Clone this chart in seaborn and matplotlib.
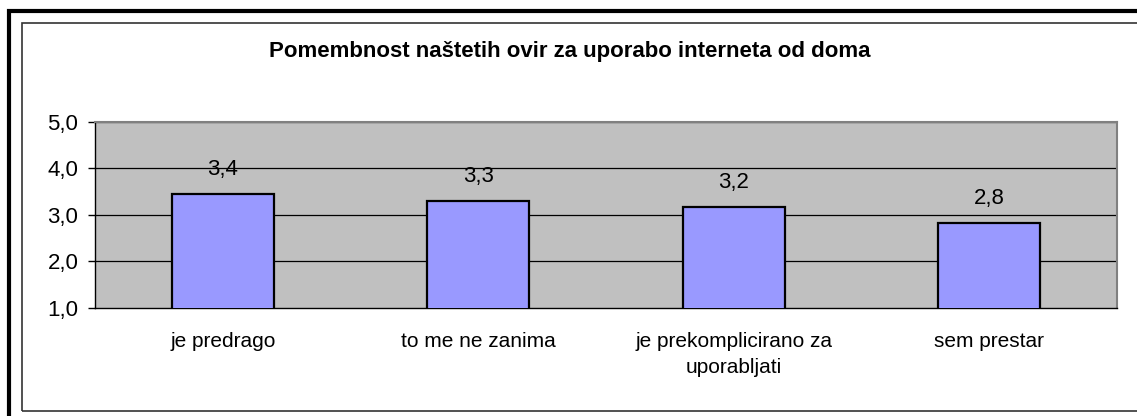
import numpy as np
import pandas as pd
import matplotlib
matplotlib.use("Agg")
import matplotlib.pyplot as plt
from matplotlib.patches import Rectangle
import seaborn as sns

# data
categories = ["je predrago", "to me ne zanima", "je prekomplicirano za\nuporabljati", "sem prestar"]
values = [3.44, 3.29, 3.17, 2.83]
value_labels = ["3,4", "3,3", "3,2", "2,8"]
y_ticks = [1.0, 2.0, 3.0, 4.0, 5.0]
y_tick_labels = ["1,0", "2,0", "3,0", "4,0", "5,0"]
title = "Pomembnost naštetih ovir za uporabo interneta od doma"

sns.set_theme(style="white")
plt.rcParams['font.family'] = ['Liberation Sans', 'DejaVu Sans']
plt.rcParams['text.color'] = 'black'
plt.rcParams['xtick.labelcolor'] = 'black'
plt.rcParams['ytick.labelcolor'] = 'black'

W, H = 1137, 416
fig = plt.figure(figsize=(W / 100, H / 100), dpi=100)
fig.patch.set_facecolor("white")

# outer thick frame and inner thin frame (both run off the right/bottom edge)
fig.patches.append(Rectangle((9 / W, -0.1), 1.2, 1 - 11 / H + 0.1, transform=fig.transFigure,
                             fill=False, edgecolor="black", linewidth=3.0, clip_on=False))
fig.patches.append(Rectangle((21.5 / W, 1 - 411 / H), 1.2, (411 - 22.5) / H, transform=fig.transFigure,
                             fill=False, edgecolor="#333333", linewidth=1.2, clip_on=False))

ax = fig.add_axes([95 / W, 1 - 308 / H, (1117 - 95) / W, (308 - 121.7) / H])
df = pd.DataFrame({"cat": categories, "val": values})
sns.barplot(data=df, x="cat", y="val", color="#9999FF", edgecolor="black",
            linewidth=1.6, width=0.4, saturation=1, ax=ax, zorder=3)

ax.set_facecolor("#C0C0C0")
ax.set_xlim(-0.5, len(categories) - 0.5)
ax.set_ylim(1, 5)
ax.set_yticks(y_ticks)
ax.set_yticklabels(y_tick_labels, fontsize=16)
for y in y_ticks[1:]:
    ax.axhline(y, color="black", linewidth=0.9, zorder=1)

ax.set_xticks(range(len(categories)))
ax.set_xticklabels(categories, fontsize=15, linespacing=1.5)
ax.set_xticks(np.arange(-0.5, len(categories), 1.0), minor=True)
ax.tick_params(axis="x", which="major", length=0, pad=17)
ax.tick_params(axis="x", which="minor", length=5, width=1, color="black", direction="out")
ax.tick_params(axis="y", length=5, width=1, color="black", direction="out", left=True, pad=7)
ax.set_xlabel("")
ax.set_ylabel("")

for side in ["top", "right"]:
    ax.spines[side].set_color("#808080")
    ax.spines[side].set_linewidth(1.5)
for side in ["left", "bottom"]:
    ax.spines[side].set_color("black")
    ax.spines[side].set_linewidth(1.0)

for i, (v, lab) in enumerate(zip(values, value_labels)):
    ax.annotate(lab, (i, v), xytext=(0, 10), textcoords="offset points",
                ha="center", va="bottom", fontsize=16, zorder=4)

fig.text(570 / W, 1 - 52 / H, title, ha="center", va="center", fontsize=16, fontweight="bold")

fig.savefig("out.png", dpi=100)
